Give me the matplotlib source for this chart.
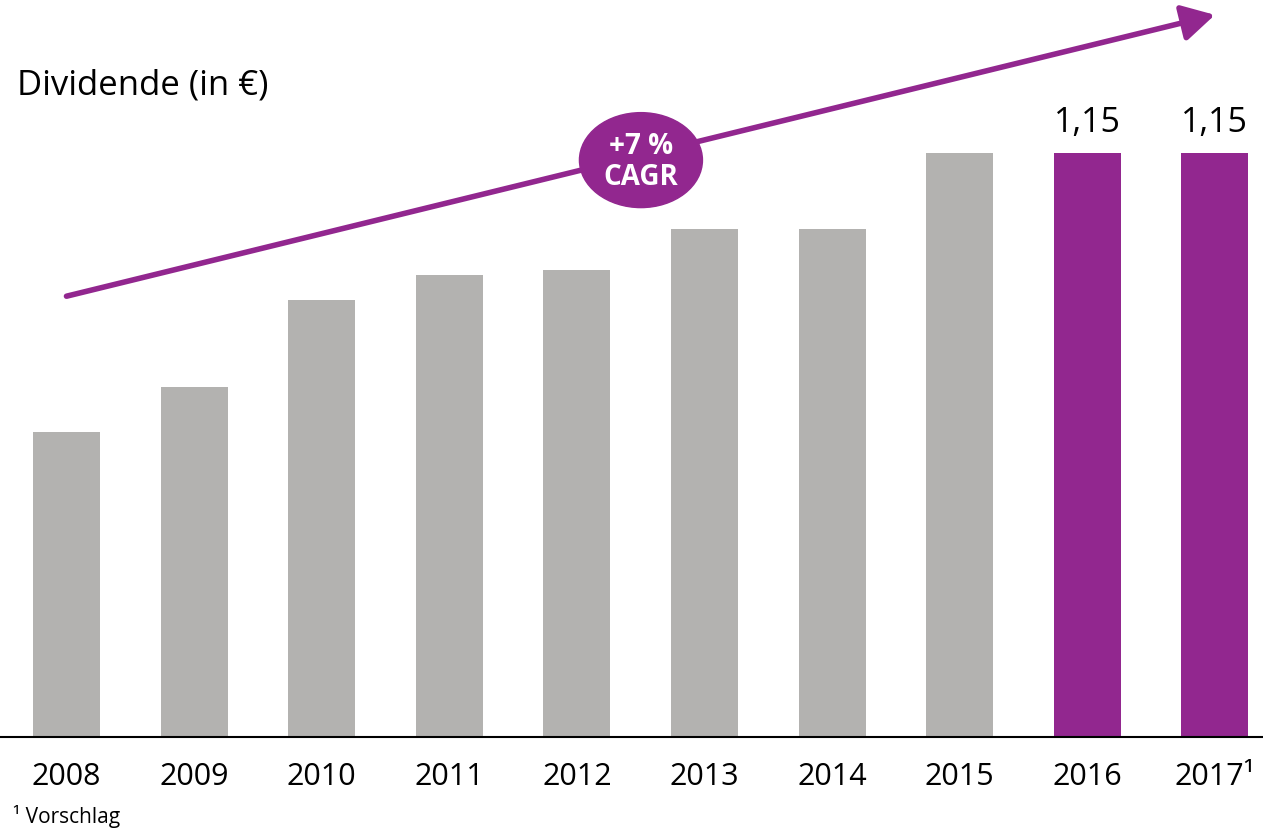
import matplotlib
matplotlib.use("Agg")
import matplotlib.pyplot as plt
from matplotlib.patches import Ellipse

plt.rcParams["font.family"] = ["Open Sans", "DejaVu Sans"]

YEARS = ["2008", "2009", "2010", "2011", "2012", "2013", "2014", "2015", "2016", "2017¹"]
DIVIDEND = [0.60, 0.69, 0.86, 0.91, 0.92, 1.00, 1.00, 1.15, 1.15, 1.15]
HIGHLIGHT = [False] * 8 + [True, True]
VALUE_LABELS = {8: "1,15", 9: "1,15"}
CAGR_TEXT = "+7 %\nCAGR"
TITLE = "Dividende (in €)"
FOOTNOTE = "¹ Vorschlag"

GREY = "#b3b2b0"
PURPLE = "#92278f"

W, H = 1263, 832
fig = plt.figure(figsize=(W / 100, H / 100), dpi=100)
ax = fig.add_axes([0, 95 / H, 1, 737 / H])

x = list(range(len(YEARS)))
colors = [PURPLE if h else GREY for h in HIGHLIGHT]
ax.bar(x, DIVIDEND, width=0.525, color=colors, zorder=2)

ax.set_xlim(-0.521, 9.377)
ax.set_ylim(0, 1.4513)
for s in ["top", "right", "left"]:
    ax.spines[s].set_visible(False)
ax.spines["bottom"].set_linewidth(1.5)
ax.set_yticks([])
ax.set_xticks(x)
ax.set_xticklabels(YEARS, fontsize=22)
ax.tick_params(axis="x", length=0, pad=18)

for i, lab in VALUE_LABELS.items():
    ax.text(i, DIVIDEND[i] + 0.025, lab, ha="center", va="bottom", fontsize=24.5)

# trend arrow
ax.annotate("", xy=(9.0, 1.422), xytext=(0.0, 0.868),
            arrowprops=dict(arrowstyle="-|>,head_length=0.9,head_width=0.5",
                            color=PURPLE, lw=4.0, mutation_scale=22,
                            shrinkA=0, shrinkB=0),
            annotation_clip=False, zorder=3)

ax.add_patch(Ellipse((4.502, 1.136), 0.964, 0.187, color=PURPLE, zorder=4))
ax.text(4.502, 1.133, CAGR_TEXT, ha="center", va="center", fontsize=20,
        fontweight="bold", color="white", linespacing=1.1, zorder=5)

fig.text(17 / W, 1 - 86 / H, TITLE, ha="left", va="center", fontsize=25)
fig.text(13 / W, 1 - 816 / H, FOOTNOTE, ha="left", va="center", fontsize=15)

fig.savefig("out.png", dpi=100)
